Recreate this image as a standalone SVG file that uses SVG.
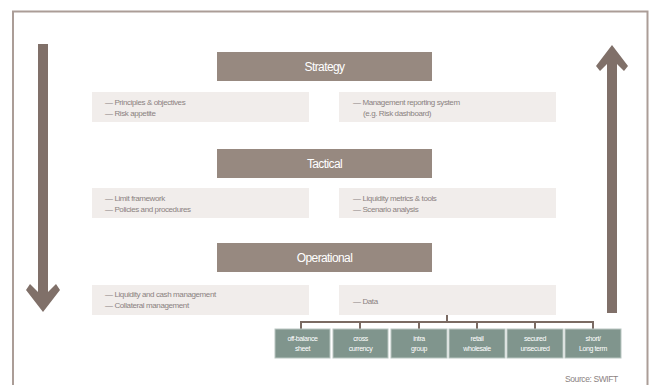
<svg xmlns="http://www.w3.org/2000/svg" width="654" height="385" viewBox="0 0 654 385">
<style>
.hdr{fill:#978980}
.hdrt{fill:#fff;font-family:"Liberation Sans",Arial,sans-serif;font-size:12px;text-anchor:middle;letter-spacing:-0.6px}
.lst{fill:#f1edeb}
.lt{fill:#8b8281;font-family:"Liberation Sans",Arial,sans-serif;font-size:8px;letter-spacing:-0.4px}
.sb{fill:#80958d;stroke:#b9c6c1;stroke-width:1}
.st{fill:#fff;font-family:"Liberation Sans",Arial,sans-serif;font-size:7px;text-anchor:middle;letter-spacing:-0.4px}
.con{fill:none;stroke:#7b6b63;stroke-width:2}
.arr{fill:#807069}
</style>
<rect width="654" height="385" fill="#fff"/>
<path d="M13 385 V11.5 H647.5 V385" fill="none" stroke="#ab9d97" stroke-width="2"/>
<g id="arrow-down"><polygon class="arr" points="38,44 48,44 48,292 56,284 60,290 43,312 26,290 30,284 38,292"/></g>
<g id="arrow-up"><polygon class="arr" points="607,313 617,313 617,64 624,71 628,66 612,45 596,66 600,71 607,64"/></g>
<g id="strategy"><rect class="hdr" x="217" y="52" width="215" height="29"/><text class="hdrt" x="324.5" y="71">Strategy</text></g>
<g id="strategy-left"><rect class="lst" x="92" y="92" width="217" height="30"/><text class="lt" x="105" y="105">— Principles &amp; objectives</text><text class="lt" x="105" y="116">— Risk appetite</text></g>
<g id="strategy-right"><rect class="lst" x="339" y="92" width="217" height="30"/><text class="lt" x="353" y="105">— Management reporting system</text><text class="lt" x="363" y="116">(e.g. Risk dashboard)</text></g>
<g id="tactical"><rect class="hdr" x="217" y="149" width="215" height="29"/><text class="hdrt" x="324.5" y="168">Tactical</text></g>
<g id="tactical-left"><rect class="lst" x="92" y="188" width="217" height="30"/><text class="lt" x="105" y="201">— Limit framework</text><text class="lt" x="105" y="212">— Policies and procedures</text></g>
<g id="tactical-right"><rect class="lst" x="339" y="188" width="217" height="30"/><text class="lt" x="353" y="201">— Liquidity metrics &amp; tools</text><text class="lt" x="353" y="212">— Scenario analysis</text></g>
<g id="operational"><rect class="hdr" x="217" y="243" width="215" height="29"/><text class="hdrt" x="324.5" y="262">Operational</text></g>
<g id="operational-left"><rect class="lst" x="92" y="285" width="217" height="30"/><text class="lt" x="105" y="297">— Liquidity and cash management</text><text class="lt" x="105" y="308">— Collateral management</text></g>
<g id="data"><rect class="lst" x="339" y="285" width="217" height="30"/><text class="lt" x="353" y="304">— Data</text></g>
<g id="connectors">
<path class="con" d="M447 315 V322 M301 329 V322 H593 V329 M360 322 V329 M419 322 V329 M477 322 V329 M535 322 V329"/>
</g>
<g id="b1"><rect class="sb" x="275" y="329" width="55" height="29"/><text class="st" x="302.5" y="341">off-balance</text><text class="st" x="302.5" y="351">sheet</text></g>
<g id="b2"><rect class="sb" x="333" y="329" width="55" height="29"/><text class="st" x="360.5" y="341">cross</text><text class="st" x="360.5" y="351">currency</text></g>
<g id="b3"><rect class="sb" x="391" y="329" width="56" height="29"/><text class="st" x="419" y="341">intra</text><text class="st" x="419" y="351">group</text></g>
<g id="b4"><rect class="sb" x="449" y="329" width="56" height="29"/><text class="st" x="477" y="341">retail</text><text class="st" x="477" y="351">wholesale</text></g>
<g id="b5"><rect class="sb" x="507" y="329" width="56" height="29"/><text class="st" x="535" y="341">secured</text><text class="st" x="535" y="351">unsecured</text></g>
<g id="b6"><rect class="sb" x="565" y="329" width="56" height="29"/><text class="st" x="593" y="341">short/</text><text class="st" x="593" y="351">Long term</text></g>
<text x="565" y="382" fill="#8b8281" font-family="'Liberation Sans',Arial,sans-serif" font-size="8.5" letter-spacing="-0.4">Source: SWIFT</text>
</svg>
